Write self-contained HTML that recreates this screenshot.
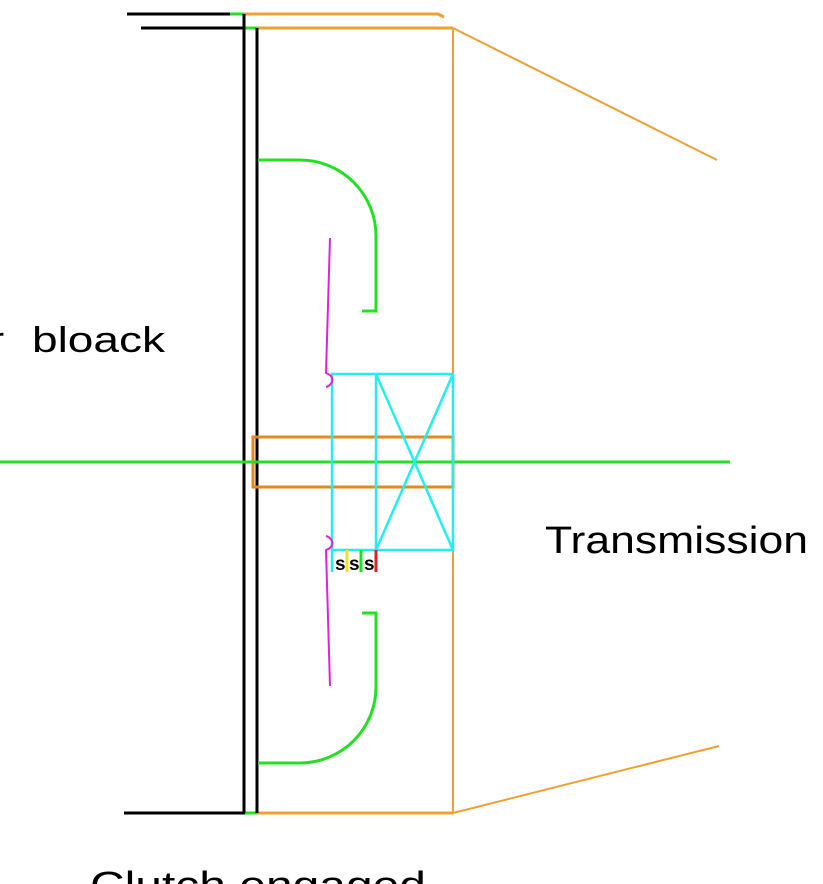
<!DOCTYPE html>
<html><head><style>html,body{margin:0;padding:0;background:#fff;overflow:hidden}</style></head>
<body>
<svg width="823" height="884" viewBox="0 0 823 884" xmlns="http://www.w3.org/2000/svg" style="display:block">
<g fill="none" stroke-width="3">
<line x1="127" y1="14" x2="232" y2="14" stroke="#000"/>
<line x1="230" y1="14" x2="244" y2="14" stroke="#22e022"/>
<polyline points="244,14 438,14 444,17" stroke="#f0a030"/>
<line x1="141" y1="28" x2="245" y2="28" stroke="#000"/>
<line x1="245" y1="28" x2="257" y2="28" stroke="#22e022"/>
<line x1="257" y1="28" x2="453" y2="28" stroke="#f0a030"/>
<line x1="124" y1="813" x2="245" y2="813" stroke="#000"/>
<line x1="245" y1="813" x2="257" y2="813" stroke="#22e022"/>
<line x1="257" y1="813" x2="453" y2="813" stroke="#f0a030"/>
<line x1="244" y1="14" x2="244" y2="813" stroke="#000"/>
<line x1="257" y1="28" x2="257" y2="813" stroke="#000"/>
<line x1="453" y1="28" x2="453" y2="813" stroke="#f0a030" stroke-width="2"/>
<line x1="453" y1="28" x2="717" y2="160" stroke="#f0a030" stroke-width="2"/>
<line x1="453" y1="813" x2="719" y2="746" stroke="#f0a030" stroke-width="2"/>
<rect x="253" y="437" width="200" height="50" stroke="#e08a20"/>
<line x1="0" y1="462" x2="730" y2="462" stroke="#22e022"/>
<g stroke="#22eeee" stroke-width="2.5">
<rect x="332" y="374" width="121" height="176"/>
<line x1="376" y1="374" x2="376" y2="550"/>
<line x1="376" y1="374" x2="453" y2="550"/>
<line x1="376" y1="550" x2="453" y2="374"/>
<line x1="332" y1="550" x2="332" y2="572"/>
</g>
<g stroke="#22e022">
<path d="M258 160 H300 A76 76 0 0 1 376 236 V311 H362"/>
<path d="M258 763 H300 A76 76 0 0 0 376 687 V613 H362"/>
</g>
<g stroke="#dd22dd" stroke-width="2">
<path d="M330 238 L326 373 Q334 376 332 382 Q330 386 326 387"/>
<path d="M330 686 L326 550 Q334 547 332 541 Q330 537 326 536"/>
</g>
<line x1="347" y1="550" x2="347" y2="572" stroke="#f0e020"/>
<line x1="361" y1="550" x2="361" y2="572" stroke="#22e022"/>
<line x1="376" y1="550" x2="376" y2="572" stroke="#e02020"/>
</g>
<g font-family="Liberation Sans, sans-serif" fill="#000">
<text x="335" y="570" font-size="19" font-weight="bold">s</text>
<text x="349" y="570" font-size="19" font-weight="bold">s</text>
<text x="364" y="570" font-size="19" font-weight="bold">s</text>
<text x="-8" y="352" font-size="36">r</text>
<text x="32" y="352" font-size="36" textLength="133" lengthAdjust="spacingAndGlyphs">bloack</text>
<text x="545" y="553" font-size="38" textLength="263" lengthAdjust="spacingAndGlyphs">Transmission</text>
<text x="90" y="898" font-size="38" textLength="336" lengthAdjust="spacingAndGlyphs">Clutch engaged</text>
</g>
</svg>
</body></html>
